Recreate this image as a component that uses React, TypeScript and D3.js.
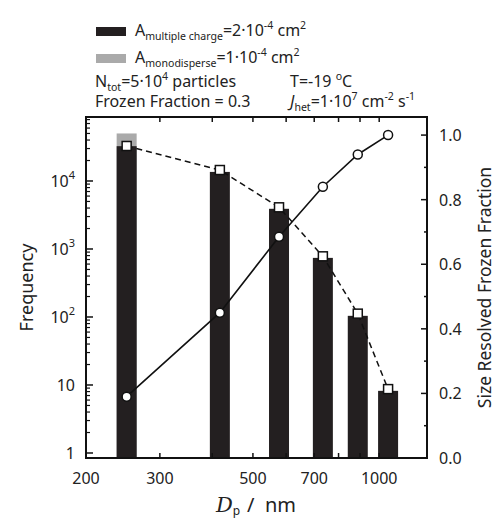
import React from "react";
import * as d3 from "d3";

const diameters = [250, 417, 577, 734, 889, 1050];
const freqMultiple = [32500, 13600, 3900, 740, 104, 8.2];
const monoDiameters = [250];
const freqMono = [50000];
const freqModel = [32700, 14500, 4100, 780, 112, 8.7];
const frozenFraction = [0.19, 0.45, 0.685, 0.84, 0.94, 1.0];

const xTicks = [200, 300, 400, 500, 600, 700, 800, 900, 1000];
const xTickLabels = [200, 300, 500, 700, 1000];
const yLeftMajor = [1, 10, 100, 1000, 10000];
const yLeftLabels = ["1", "10", "10|2", "10|3", "10|4"];
const yRightTicks = [0, 0.1, 0.2, 0.3, 0.4, 0.5, 0.6, 0.7, 0.8, 0.9, 1.0];
const yRightLabels = [0, 0.2, 0.4, 0.6, 0.8, 1.0];

const FONT = "'Noto Sans', sans-serif";
const BAR = "#231f20";
const GREY = "#aaaaaa";

const L = 86, R = 427, T = 117, B = 458;

type Seg = { t: string; k?: "sub" | "sup"; i?: boolean };

function Rich({ segs, size }: { segs: Seg[]; size: number }) {
  let cur = 0;
  const small = size * 0.66;
  return (
    <>
      {segs.map((s, idx) => {
        const target = s.k === "sub" ? size * 0.22 : s.k === "sup" ? -size * 0.42 : 0;
        const dy = target - cur;
        cur = target;
        return (
          <tspan key={idx} dy={dy} fontSize={s.k ? small : size} fontStyle={s.i ? "italic" : undefined}>
            {s.t}
          </tspan>
        );
      })}
    </>
  );
}

export default function App() {
  const x = d3.scaleLog().domain([200, 1300]).range([L, R]);
  const yL = d3.scaleLog().domain([0.844, 87300]).range([B, T]);
  const yR = d3.scaleLinear().domain([0, 1.056]).range([B, T]);
  const barW = 20;

  const minorLeft: number[] = [];
  for (let e = 0; e <= 4; e++) {
    for (let m = 2; m <= 9; m++) {
      const v = m * Math.pow(10, e);
      if (v < 87300) minorLeft.push(v);
    }
  }

  const solid = d3.line<number>().x((_, i) => x(diameters[i])).y((v) => yR(v));
  const dashed = d3.line<number>().x((_, i) => x(diameters[i])).y((v) => yL(v));

  const LS = 16;

  return (
    <svg width={496} height={520} style={{ position: "absolute", left: 0, top: 0 }} fontFamily={FONT}>
      <rect x={0} y={0} width={496} height={520} fill="#fff" />
      {/* legend */}
      <rect x={96} y={27} width={30} height={9} fill={BAR} />
      <rect x={96} y={54} width={30} height={9} fill={GREY} />
      <g fill="#222" fontSize={LS}>
        <text x={135} y={36}>
          <Rich size={LS} segs={[{ t: "A" }, { t: "multiple charge", k: "sub" }, { t: "=2·10" }, { t: "-4", k: "sup" }, { t: " cm" }, { t: "2", k: "sup" }]} />
        </text>
        <text x={135} y={63}>
          <Rich size={LS} segs={[{ t: "A" }, { t: "monodisperse", k: "sub" }, { t: "=1·10" }, { t: "-4", k: "sup" }, { t: " cm" }, { t: "2", k: "sup" }]} />
        </text>
        <text x={95} y={87}>
          <Rich size={LS} segs={[{ t: "N" }, { t: "tot", k: "sub" }, { t: "=5·10" }, { t: "4", k: "sup" }, { t: " particles" }]} />
        </text>
        <text x={290} y={87}>
          <Rich size={LS} segs={[{ t: "T=-19 " }, { t: "o", k: "sup" }, { t: "C" }]} />
        </text>
        <text x={95} y={107}>
          <Rich size={LS} segs={[{ t: "Frozen Fraction = 0.3" }]} />
        </text>
        <text x={290} y={107}>
          <Rich size={LS} segs={[{ t: "J", i: true }, { t: "het", k: "sub" }, { t: "=1·10" }, { t: "7", k: "sup" }, { t: " cm" }, { t: "-2", k: "sup" }, { t: " s" }, { t: "-1", k: "sup" }]} />
        </text>
      </g>

      {/* bars */}
      {monoDiameters.map((d, i) => (
        <rect key={"m" + i} x={x(d) - barW / 2} y={yL(freqMono[i])} width={barW} height={B - yL(freqMono[i])} fill={GREY} />
      ))}
      {diameters.map((d, i) => (
        <rect key={"b" + i} x={x(d) - barW / 2} y={yL(freqMultiple[i])} width={barW} height={B - yL(freqMultiple[i])} fill={BAR} />
      ))}

      {/* lines */}
      <path d={solid(frozenFraction) || ""} fill="none" stroke="#111" strokeWidth={1.6} />
      <path d={dashed(freqModel) || ""} fill="none" stroke="#111" strokeWidth={1.5} strokeDasharray="6,4" />
      {frozenFraction.map((v, i) => (
        <circle key={"c" + i} cx={x(diameters[i])} cy={yR(v)} r={4.5} fill="#fff" stroke="#111" strokeWidth={1.5} />
      ))}
      {freqModel.map((v, i) => (
        <rect key={"s" + i} x={x(diameters[i]) - 4.5} y={yL(v) - 4.5} width={9} height={9} fill="#fff" stroke="#111" strokeWidth={1.5} />
      ))}

      {/* frame */}
      <rect x={L} y={T} width={R - L} height={B - T} fill="none" stroke="#111" strokeWidth={2} />
      {xTicks.map((t) => (
        <g key={"xt" + t} stroke="#111" strokeWidth={1.5}>
          <line x1={x(t)} x2={x(t)} y1={B} y2={B - 5} />
          <line x1={x(t)} x2={x(t)} y1={T} y2={T + 5} />
        </g>
      ))}
      {xTickLabels.map((t) => (
        <text key={"xl" + t} x={x(t)} y={484} textAnchor="middle" fontSize={16} fill="#222">{t}</text>
      ))}
      {yLeftMajor.map((v) => (
        <line key={"ylM" + v} x1={L} x2={L + 7} y1={yL(v)} y2={yL(v)} stroke="#111" strokeWidth={1.5} />
      ))}
      {minorLeft.map((v) => (
        <line key={"ylm" + v} x1={L} x2={L + 4} y1={yL(v)} y2={yL(v)} stroke="#111" strokeWidth={1.2} />
      ))}
      {yLeftMajor.map((v, i) => {
        const [base, exp] = yLeftLabels[i].split("|");
        return (
          <text key={"yll" + v} x={75} y={yL(v) + 6} textAnchor="end" fontSize={16} fill="#222">
            <tspan fontSize={16}>{base}</tspan>
            {exp ? <tspan dy={-8} fontSize={11}>{exp}</tspan> : null}
          </text>
        );
      })}
      {yRightTicks.map((v, i) => (
        <line key={"yr" + i} x1={R} x2={R - (i % 2 === 0 ? 6 : 3)} y1={yR(v)} y2={yR(v)} stroke="#111" strokeWidth={1.5} />
      ))}
      {yRightLabels.map((v) => (
        <text key={"yrl" + v} x={439} y={yR(v) + 6} fontSize={16} fill="#222">{v.toFixed(1)}</text>
      ))}

      {/* axis titles */}
      <text transform={`translate(33,${(T + B) / 2}) rotate(-90)`} textAnchor="middle" fontSize={18} fill="#222">Frequency</text>
      <text transform={`translate(491,${(T + B) / 2}) rotate(-90)`} textAnchor="middle" fontSize={17.5} fill="#222">Size Resolved Frozen Fraction</text>
      <text x={216} y={512} fill="#222">
        <tspan fontSize={21} fontFamily="'DejaVu Serif', serif" fontStyle="italic">D</tspan>
        <tspan dy={3} fontSize={12}>p</tspan>
        <tspan x={247} dy={-3} fontSize={20}>/</tspan>
        <tspan x={265} fontSize={20}>nm</tspan>
      </text>
    </svg>
  );
}
